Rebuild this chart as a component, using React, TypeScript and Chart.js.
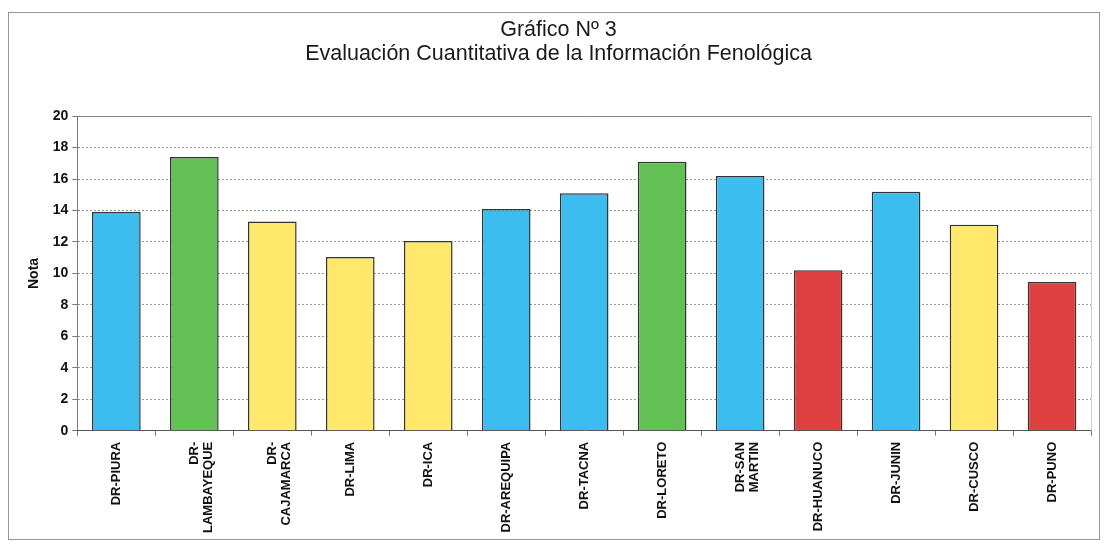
import React, { useEffect, useRef } from "react";
import { Chart, registerables } from "chart.js";

Chart.register(...registerables);

const categories: (string | string[])[] = [
  "DR-PIURA",
  ["DR-", "LAMBAYEQUE"],
  ["DR-", "CAJAMARCA"],
  "DR-LIMA",
  "DR-ICA",
  "DR-AREQUIPA",
  "DR-TACNA",
  "DR-LORETO",
  ["DR-SAN", "MARTIN"],
  "DR-HUANUCO",
  "DR-JUNIN",
  "DR-CUSCO",
  "DR-PUNO",
];

const notas = [13.9, 17.4, 13.3, 11.05, 12.06, 14.1, 15.1, 17.1, 16.2, 10.2, 15.2, 13.1, 9.45];

const barColors = [
  "#3CBDF0", "#62C055", "#FFE86A", "#FFE86A", "#FFE86A", "#3CBDF0", "#3CBDF0",
  "#62C055", "#3CBDF0", "#DE4040", "#3CBDF0", "#FFE86A", "#DE4040",
];

const yTicks = [0, 2, 4, 6, 8, 10, 12, 14, 16, 18, 20];

const titleLines = ["Gráfico Nº 3", "Evaluación Cuantitativa de la Información Fenológica"];

const FONT = "Liberation Sans, Arial, sans-serif";

const frame = {
  id: "frame",
  afterDatasetsDraw(chart: any) {
    const { ctx, chartArea } = chart;
    ctx.save();
    ctx.strokeStyle = "#888";
    ctx.lineWidth = 1;
    ctx.beginPath();
    ctx.moveTo(chartArea.left, Math.round(chartArea.top) + 0.5);
    ctx.lineTo(chartArea.right, Math.round(chartArea.top) + 0.5);
    ctx.stroke();
    ctx.strokeStyle = "#ccc";
    ctx.beginPath();
    ctx.moveTo(Math.round(chartArea.right) + 0.5, chartArea.top);
    ctx.lineTo(Math.round(chartArea.right) + 0.5, chartArea.bottom);
    ctx.stroke();
    ctx.restore();
  },
};

export default function App() {
  const ref = useRef<HTMLCanvasElement>(null);
  useEffect(() => {
    if (!ref.current) return;
    const chart = new Chart(ref.current, {
      type: "bar",
      data: {
        labels: categories,
        datasets: [
          {
            data: notas,
            backgroundColor: barColors,
            borderColor: "#333",
            borderWidth: 1.5,
            categoryPercentage: 0.8,
            barPercentage: 0.78,
          },
        ],
      },
      options: {
        animation: false,
        responsive: false,
        layout: { padding: { left: 17, right: 8, top: 0, bottom: 0 } },
        plugins: {
          legend: { display: false },
          tooltip: { enabled: false },
          title: {
            display: true,
            text: titleLines,
            color: "#1a1a1a",
            font: { family: FONT, size: 21.5, weight: "normal", lineHeight: 1.12 },
            padding: { top: 5, bottom: 50 },
          },
        },
        scales: {
          y: {
            min: 0,
            max: 20,
            afterBuildTicks: (axis: any) => {
              axis.ticks = yTicks.map((v) => ({ value: v }));
            },
            ticks: {
              color: "#111",
              font: { family: FONT, size: 14, weight: "bold" },
              padding: 4,
            },
            title: {
              display: true,
              text: "Nota",
              color: "#111",
              font: { family: FONT, size: 14, weight: "bold" },
              padding: { top: 0, bottom: 6 },
            },
            grid: {
              color: "#999",
              tickLength: 5,
              tickColor: "#777",
            },
            border: { color: "#777", dash: [2, 2] },
          },
          x: {
            grid: {
              offset: true,
              drawOnChartArea: false,
              tickLength: 5,
              tickColor: "#777",
            },
            border: { color: "#555" },
            ticks: {
              minRotation: 90,
              maxRotation: 90,
              autoSkip: false,
              color: "#111",
              padding: 6,
              font: { family: FONT, size: 13, weight: "bold", lineHeight: 1.1 },
            },
          },
        },
      },
      plugins: [frame],
    });
    return () => chart.destroy();
  }, []);
  return (
    <div style={{ width: 1092, height: 528, marginTop: 4, border: "1px solid #999", boxSizing: "border-box" }}>
      <canvas ref={ref} width={1090} height={526} />
    </div>
  );
}
